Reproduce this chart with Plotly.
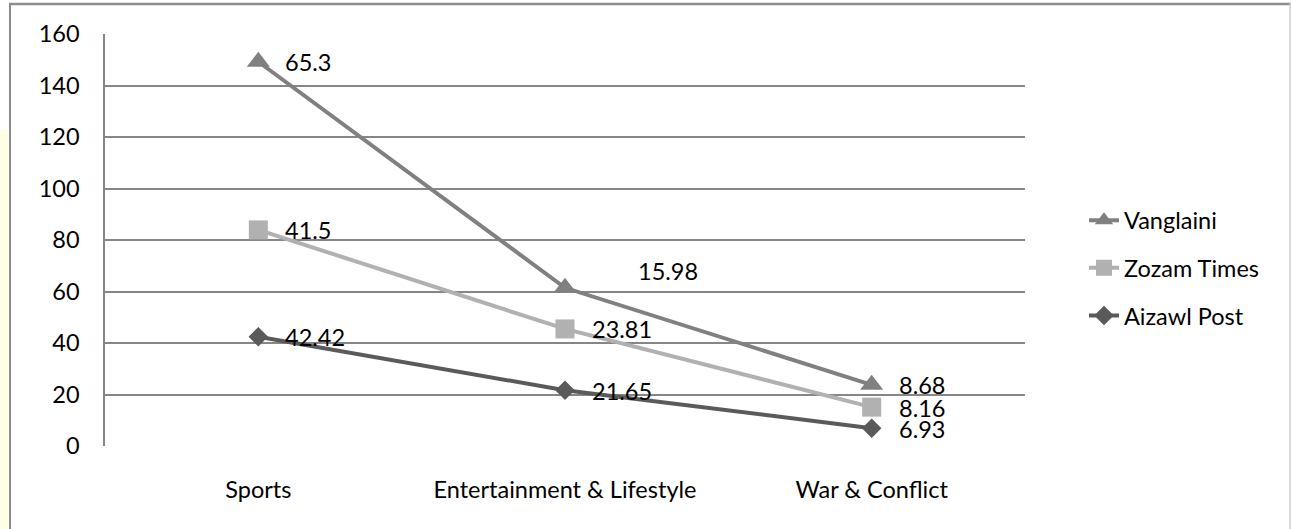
import plotly.graph_objects as go
import numpy as np

categories = ["Sports", "Entertainment & Lifestyle", "War & Conflict"]
aizawl_post = [42.42, 21.65, 6.93]
zozam_times = [41.5, 23.81, 8.16]
vanglaini = [65.3, 15.98, 8.68]
y_ticks = [0, 20, 40, 60, 80, 100, 120, 140, 160]

series = [
    ("Aizawl Post", aizawl_post, "#5a5a5a", "diamond", 15, 3),
    ("Zozam Times", zozam_times, "#b1b1b1", "square", 19, 2),
    ("Vanglaini", vanglaini, "#808080", "triangle-up", 20, 1),
]

FONT = "Lato"
FS = 23.5
fig = go.Figure()
for name, vals, col, sym, ms, rank in series:
    fig.add_trace(go.Scatter(
        x=categories, y=vals, name=name, stackgroup="s", fill="none",
        mode="lines+markers", legendgroup=name, legendrank=rank,
        line=dict(color=col, width=4),
        marker=dict(symbol=sym, size=ms, color=col),
    ))

# data labels at stacked positions
cum = np.cumsum(np.array([aizawl_post, zozam_times, vanglaini]), axis=0)
label_shift = {("Vanglaini", 1): (71, 17)}
for si, (name, vals, col, sym, ms, rank) in enumerate(series):
    for ci, cat in enumerate(categories):
        dx, dy = label_shift.get((name, ci), (25, 0))
        fig.add_annotation(x=cat, y=cum[si][ci], text=str(vals[ci]),
                           showarrow=False, xanchor="left", yanchor="middle",
                           xshift=dx, yshift=dy, height=21, valign="middle",
                           font=dict(family=FONT, size=FS, color="#000"))

L, R, T, B = 105, 1025, 34, 446
W, H = 1291, 529
def px(x): return (x - L) / (R - L)
def py(y): return (B - y) / (B - T)

shapes = [
    dict(type="rect", xref="paper", yref="paper", x0=px(0), x1=px(8), y0=py(529), y1=py(130),
         fillcolor="#fffde3", line=dict(width=0), layer="below"),
    dict(type="line", xref="paper", yref="paper", x0=px(9), x1=px(1291), y0=py(4), y1=py(4),
         line=dict(color="#8c8c8c", width=2.5)),
    dict(type="line", xref="paper", yref="paper", x0=px(10), x1=px(10), y0=py(3), y1=py(530),
         line=dict(color="#8c8c8c", width=2)),
    dict(type="line", xref="paper", yref="paper", x0=px(1290), x1=px(1290), y0=py(3), y1=py(530),
         line=dict(color="#d0d0d0", width=1.5)),
]

fig.update_layout(
    width=W, height=H,
    margin=dict(l=L, r=W - R, t=T, b=H - B, pad=0),
    paper_bgcolor="white", plot_bgcolor="white",
    font=dict(family=FONT, size=FS, color="#000"),
    showlegend=True,
    legend=dict(x=px(1084), y=py(268), xanchor="left", yanchor="middle",
                traceorder="grouped", tracegroupgap=14,
                font=dict(family=FONT, size=FS, color="#000"),
                bgcolor="rgba(0,0,0,0)"),
    shapes=shapes,
    xaxis=dict(type="category", range=[-0.5, 2.5], showgrid=False, zeroline=False,
               showline=False, ticks="", ticklabelstandoff=27,
               tickfont=dict(family=FONT, size=FS, color="#000")),
    yaxis=dict(range=[0, 160], tickvals=y_ticks, showgrid=True, gridcolor="#868686",
               gridwidth=1.5, zeroline=False, showline=True, linecolor="#868686",
               linewidth=1.5, ticks="", ticklabelstandoff=19,
               tickfont=dict(family=FONT, size=FS, color="#000")),
)

fig.write_html("out.html")
